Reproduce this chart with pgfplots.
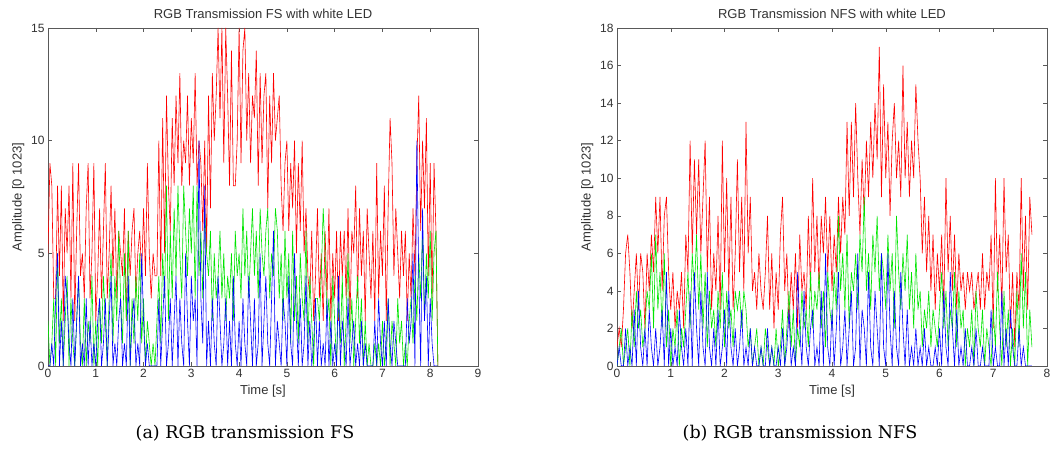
\documentclass[border=0pt]{standalone}
\usepackage{pgfplots}
\pgfplotsset{compat=1.18}
\usepackage{pgfplotstable}
\usepackage{fontspec}
\setmainfont{DejaVu Serif}
\newfontfamily\matfont{Liberation Sans}

\pgfplotstableread{
t r g b
0.00 5 2 0
0.04 9 0 0
0.08 8 1 1
0.12 3 3 0
0.16 3 0 3
0.20 8 5 5
0.24 4 1 0
0.28 8 3 2
0.32 2 0 0
0.36 7 2 4
0.40 5 4 3
0.44 8 0 1
0.48 3 3 0
0.52 9 1 3
0.56 2 0 0
0.60 6 2 2
0.64 9 4 4
0.68 4 1 0
0.72 5 0 1
0.76 3 3 0
0.80 7 0 3
0.84 9 2 0
0.88 3 1 2
0.92 5 4 0
0.96 9 0 1
1.00 2 2 0
1.04 4 0 2
1.08 7 3 3
1.12 3 1 0
1.16 6 4 1
1.20 9 2 3
1.24 3 0 0
1.28 5 3 2
1.32 8 5 4
1.36 4 1 0
1.40 7 4 1
1.44 3 2 0
1.48 6 6 2
1.52 5 3 3
1.56 4 1 0
1.60 7 5 1
1.64 2 2 0
1.68 6 6 4
1.72 4 0 0
1.76 6 3 2
1.80 7 1 3
1.84 3 4 0
1.88 5 2 1
1.92 6 5 0
1.96 4 1 5
2.00 7 3 2
2.04 4 0 0
2.08 9 2 1
2.12 5 1 0
2.16 3 0 0
2.20 5 1 0
2.24 4 0 0
2.28 4 2 0
2.32 10 4 3
2.36 4 1 0
2.40 11 5 2
2.44 5 3 4
2.48 12 8 0
2.52 8 2 1
2.56 6 6 3
2.60 11 3 0
2.64 8 7 2
2.68 12 4 4
2.72 9 8 0
2.76 13 5 3
2.80 8 3 1
2.84 10 8 0
2.88 9 6 5
2.92 12 4 2
2.96 8 7 0
3.00 11 5 4
3.04 9 8 2
3.08 13 3 3
3.12 8 8 0
3.16 10 4 10
3.20 9 6 3
3.24 6 3 1
3.28 10 7 8
3.32 5 5 0
3.36 12 4 2
3.40 7 6 0
3.44 13 2 3
3.48 10 5 1
3.52 12 3 0
3.56 15 4 4
3.60 11 6 2
3.64 15 3 0
3.68 9 5 1
3.72 15 2 3
3.76 12 4 0
3.80 8 3 2
3.84 14 5 0
3.88 8 2 4
3.92 8 6 1
3.96 10 4 0
4.00 15 5 2
4.04 9 3 0
4.08 14 7 3
4.12 15 4 1
4.16 10 6 0
4.20 13 3 4
4.24 9 5 2
4.28 12 7 0
4.32 11 4 3
4.36 14 6 0
4.40 8 3 1
4.44 13 7 5
4.48 9 5 0
4.52 12 4 2
4.56 13 6 4
4.60 7 7 1
4.64 12 3 0
4.68 9 5 3
4.72 13 4 6
4.76 10 7 0
4.80 11 6 2
4.84 12 3 1
4.88 8 5 0
4.92 6 2 3
4.96 9 6 2
5.00 10 3 0
5.04 6 5 4
5.08 9 1 1
5.12 7 6 0
5.16 10 2 5
5.20 5 4 2
5.24 9 1 0
5.28 6 5 3
5.32 10 3 0
5.36 5 2 1
5.40 7 6 4
5.44 4 1 0
5.48 3 4 2
5.52 6 2 0
5.56 2 0 1
5.60 4 3 3
5.64 7 3 0
5.68 3 2 2
5.72 5 4 0
5.76 2 7 1
5.80 6 5 0
5.84 3 2 3
5.88 7 3 0
5.92 2 0 2
5.96 5 4 0
6.00 3 2 1
6.04 6 0 0
6.08 2 3 4
6.12 6 1 0
6.16 4 4 2
6.20 6 0 1
6.24 3 2 0
6.28 7 5 3
6.32 2 1 0
6.36 6 3 1
6.40 5 0 2
6.44 8 2 0
6.48 3 4 1
6.52 7 1 0
6.56 4 3 2
6.60 6 0 0
6.64 2 2 1
6.68 7 0 0
6.72 5 1 0
6.76 3 0 0
6.80 6 0 0
6.84 2 1 2
6.88 9 0 0
6.92 3 1 3
6.96 6 0 1
7.00 4 2 0
7.04 8 0 2
7.08 2 1 0
7.12 7 3 3
7.16 11 0 1
7.20 9 2 0
7.24 4 1 2
7.28 7 0 1
7.32 5 3 0
7.36 3 1 0
7.40 6 2 0
7.44 4 0 0
7.48 6 1 0
7.52 2 0 3
7.56 5 2 1
7.60 3 3 2
7.64 7 1 5
7.68 4 4 0
7.72 9 2 10
7.76 12 5 4
7.80 6 3 0
7.84 10 6 7
7.88 7 2 2
7.92 11 5 4
7.96 4 3 0
8.00 9 6 3
8.04 3 2 1
8.08 9 5 0
8.12 6 6 0
8.16 0 0 0
}\fsdata

\pgfplotstableread{
t r g b
0.00 1 0 0
0.04 2 1 1
0.08 1 2 0
0.12 3 0 0
0.16 6 1 2
0.20 7 2 0
0.24 5 0 1
0.28 2 3 0
0.32 4 1 3
0.36 6 4 0
0.40 3 2 4
0.44 6 3 1
0.48 5 1 0
0.52 2 2 2
0.56 6 4 0
0.60 4 3 3
0.64 7 6 1
0.68 5 2 0
0.72 9 7 2
0.76 6 3 0
0.80 9 5 1
0.84 4 2 3
0.88 8 6 0
0.92 9 1 5
0.96 5 3 0
1.00 3 0 2
1.04 5 2 0
1.08 2 1 1
1.12 4 3 0
1.16 3 0 3
1.20 5 2 1
1.24 2 1 0
1.28 7 3 2
1.32 5 5 0
1.36 12 2 4
1.40 6 6 0
1.44 11 4 5
1.48 7 7 2
1.52 11 3 0
1.56 6 6 4
1.60 9 2 1
1.64 12 5 0
1.68 5 1 5
1.72 9 4 1
1.76 3 2 0
1.80 6 3 2
1.84 4 1 0
1.88 8 4 3
1.92 3 2 0
1.96 12 5 1
2.00 5 1 3
2.04 10 4 0
2.08 4 2 4
2.12 9 3 1
2.16 3 1 0
2.20 6 4 2
2.24 11 3 0
2.28 5 4 1
2.32 9 2 3
2.36 4 4 0
2.40 13 3 1
2.44 6 1 0
2.48 9 2 2
2.52 4 0 0
2.56 5 1 1
2.60 3 2 0
2.64 6 0 0
2.68 4 1 1
2.72 3 0 0
2.76 5 2 0
2.80 8 1 2
2.84 3 0 0
2.88 6 1 1
2.92 2 0 0
2.96 5 2 0
3.00 3 0 1
3.04 7 1 0
3.08 9 3 2
3.12 4 0 0
3.16 6 2 1
3.20 2 4 3
3.24 5 1 0
3.28 3 3 1
3.32 6 0 0
3.36 2 2 5
3.40 7 1 2
3.44 4 4 0
3.48 5 2 4
3.52 3 3 1
3.56 8 1 0
3.60 4 5 2
3.64 10 2 3
3.68 5 4 0
3.72 8 3 1
3.76 4 5 0
3.80 8 2 4
3.84 6 4 0
3.88 9 1 6
3.92 5 5 1
3.96 8 3 0
4.00 4 2 3
4.04 7 5 0
4.08 5 3 2
4.12 9 8 5
4.16 6 4 0
4.20 9 6 1
4.24 7 3 3
4.28 13 7 0
4.32 8 2 2
4.36 13 5 4
4.40 9 4 0
4.44 14 6 1
4.48 10 3 6
4.52 7 7 0
4.56 11 5 3
4.60 8 9 2
4.64 12 4 0
4.68 9 6 5
4.72 13 3 1
4.76 10 7 0
4.80 14 5 4
4.84 11 8 2
4.88 17 4 0
4.92 9 6 6
4.96 15 5 1
5.00 10 3 0
5.04 13 7 6
5.08 8 4 2
5.12 12 6 0
5.16 14 2 4
5.20 10 8 1
5.24 12 5 0
5.28 9 3 5
5.32 16 6 2
5.36 10 4 0
5.40 13 7 3
5.44 9 3 0
5.48 12 5 1
5.52 10 2 0
5.56 15 6 2
5.60 12 3 0
5.64 10 4 1
5.68 6 1 0
5.72 9 3 2
5.76 5 2 0
5.80 8 4 1
5.84 4 1 0
5.88 7 3 0
5.92 3 2 1
5.96 6 1 0
6.00 4 3 2
6.04 7 5 0
6.08 3 2 4
6.12 10 4 1
6.16 5 1 0
6.20 8 3 5
6.24 4 2 2
6.28 7 5 0
6.32 3 1 3
6.36 6 4 0
6.40 4 2 1
6.44 5 3 0
6.48 3 0 2
6.52 5 2 0
6.56 4 1 0
6.60 5 3 1
6.64 3 0 0
6.68 4 4 2
6.72 5 2 0
6.76 3 1 0
6.80 6 3 1
6.84 3 0 0
6.88 5 2 0
6.92 4 1 0
6.96 7 0 3
7.00 2 3 0
7.04 10 1 1
7.08 4 5 0
7.12 7 2 0
7.16 3 0 4
7.20 10 4 0
7.24 5 1 2
7.28 7 3 0
7.32 2 0 3
7.36 5 2 1
7.40 1 0 0
7.44 5 4 0
7.48 3 1 2
7.52 10 6 0
7.56 4 2 1
7.60 8 5 0
7.64 3 0 0
7.68 9 3 0
7.72 7 1 0
}\nfsdata

\pgfplotsset{
  matstyle/.style={
    scale only axis, width=430pt, height=338pt,
    axis line style={black!65, line width=0.5pt},
    major tick style={black!65, line width=0.5pt},
    tick align=inside,
    major tick length=4pt,
    font=\matfont\fontsize{12}{14}\selectfont,
    tick label style={font=\matfont\fontsize{12}{14}\selectfont, text=black!80},
    label style={font=\matfont\fontsize{13}{15}\selectfont, text=black!80},
    title style={font=\matfont\fontsize{13}{15}\selectfont, text=black!80},
    /pgf/number format/assume math mode=true,
    xlabel={Time [s]},
    ylabel={Amplitude [0 1023]},
    anchor=south west,
    every axis plot/.append style={sharp plot, mark=none, line width=0.6pt},
  }
}

\begin{document}
\begin{tikzpicture}
\fill[white] (0pt,0pt) rectangle (1050pt,455pt);
\path[use as bounding box] (0pt,0pt) rectangle (1050pt,455pt);
\begin{axis}[matstyle, at={(48pt,89pt)},
  xmin=0, xmax=9, ymin=0, ymax=15,
  xtick={0,1,...,9}, ytick={0,5,10,15},
  title={RGB Transmission FS with white LED}]
\addplot[draw=red] table[x=t, y=r] {\fsdata};
\addplot[draw=green!90!black] table[x=t, y=g] {\fsdata};
\addplot[draw=blue] table[x=t, y=b] {\fsdata};
\end{axis}
\begin{axis}[matstyle, at={(617pt,89pt)},
  xmin=0, xmax=8, ymin=0, ymax=18,
  xtick={0,1,...,8}, ytick={0,2,...,18},
  title={RGB Transmission NFS with white LED}]
\addplot[draw=red] table[x=t, y=r] {\nfsdata};
\addplot[draw=green!90!black] table[x=t, y=g] {\nfsdata};
\addplot[draw=blue] table[x=t, y=b] {\nfsdata};
\end{axis}
\node[font=\fontsize{17.5}{20}\selectfont] at (245pt,22pt) {(a) RGB transmission FS};
\node[font=\fontsize{17.5}{20}\selectfont] at (800pt,22pt) {(b) RGB transmission NFS};
\end{tikzpicture}
\end{document}
